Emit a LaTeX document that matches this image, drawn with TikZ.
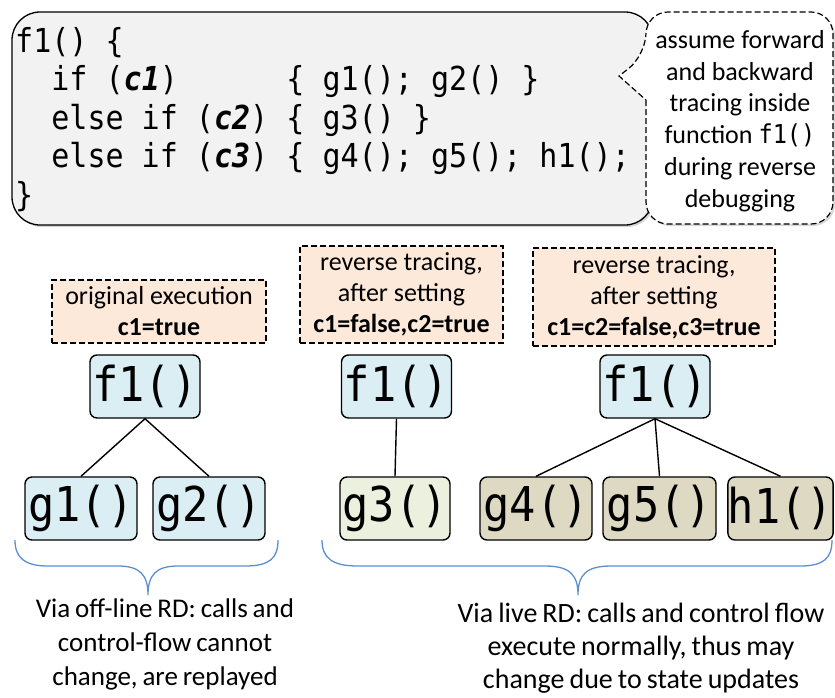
\documentclass[tikz,border=0pt]{standalone}
\usepackage{fontspec}
\setmainfont{Carlito}
\newfontfamily\codefont[FakeStretch=0.91]{DejaVu Sans Mono}
\usetikzlibrary{shadows}
\definecolor{codebg}{HTML}{F2F2F2}
\definecolor{peach}{HTML}{FDE9D9}
\definecolor{fblue}{HTML}{DAEEF3}
\definecolor{fgreen}{HTML}{EBF1DE}
\definecolor{ftan}{HTML}{DDD9C3}
\definecolor{brace}{HTML}{5B8FCF}
\newcommand\tightsp{\spaceskip=0.18em plus 0.05em\relax}
\tikzset{
  codeline/.style={anchor=base west, inner sep=0pt, font=\codefont\fontsize{33}{38}\selectfont},
  fnode/.style={draw, line width=1.4pt, rounded corners=7pt, inner sep=0pt,
     minimum height=63pt, font=\codefont\fontsize{48}{48}\selectfont},
  lbl/.style={draw, line width=1.2pt, dash pattern=on 6pt off 3pt, fill=peach, align=center,
     inner sep=0pt, font=\fontsize{26}{31}\selectfont},
  edge/.style={line width=1.4pt},
  bracepath/.style={draw=brace, line width=1.3pt},
  note/.style={align=center, inner sep=0pt, font=\fontsize{27}{34}\selectfont}
}
\begin{document}
\begin{tikzpicture}[x=1pt,y=-1pt]
\useasboundingbox (0,0) rectangle (835,697);
% code box
\path[draw, line width=1.3pt, fill=codebg, rounded corners=28pt,
  drop shadow={shadow xshift=2pt, shadow yshift=-2pt, opacity=0.35}]
  (12,12) rectangle (653,225);
\node[codeline] (l1) at (15,52) {f1() \{};
\node[codeline] (l2) at (15,90.5) {\phantom{xx}if (\textbf{\textit{c1}})\phantom{xxxxx} \{ g1(); g2() \}};
\node[codeline] (l3) at (15,129) {\phantom{xx}else if (\textbf{\textit{c2}}) \{ g3() \}};
\node[codeline] (l4) at (15,167.5) {\phantom{xx}else if (\textbf{\textit{c3}}) \{ g4(); g5(); h1();};
\node[codeline] (l5) at (15,206) {\}};
% callout
\path[draw, line width=1.2pt, dash pattern=on 6pt off 3pt, fill=white, rounded corners=22pt,
  drop shadow={shadow xshift=2pt, shadow yshift=-2pt, opacity=0.3}]
  (646,100) -- (646,224) -- (833,224) -- (833,12) -- (646,12) -- (646,55) [sharp corners] -- (619,76) -- cycle;
\node[note, font=\fontsize{26}{31.7}\selectfont] (call) at (740,121)
  {assume forward\\and backward\\tracing inside\\function {\codefont f1()}\\during reverse\\debugging};
% label boxes
\node[lbl, minimum width=214pt, minimum height=63pt] (lb1) at (159,311.5)
  {original execution\\\textbf{c1=true}};
\node[lbl, minimum width=203pt, minimum height=97pt] (lb2) at (401.5,294.5)
  {reverse tracing,\\after setting\\\textbf{c1=false,c2=true}};
\node[lbl, minimum width=242pt, minimum height=98pt] (lb3) at (654,297)
  {reverse tracing,\\after setting\\\textbf{c1=c2=false,c3=true}};
% function nodes
\node[fnode, fill=fblue, minimum width=110pt] (f1a) at (145,386.5) {f1()};
\node[fnode, fill=fblue, minimum width=110pt] (f1b) at (396.5,386.5) {f1()};
\node[fnode, fill=fblue, minimum width=110pt] (f1c) at (655,386.5) {f1()};
\node[fnode, fill=fblue, minimum width=112pt] (g1) at (81,508.5) {g1()};
\node[fnode, fill=fblue, minimum width=112pt] (g2) at (209,508.5) {g2()};
\node[fnode, fill=fgreen, minimum width=110pt] (g3) at (395,508.5) {g3()};
\node[fnode, fill=ftan, minimum width=112pt] (g4) at (536,508.5) {g4()};
\node[fnode, fill=ftan, minimum width=113pt] (g5) at (659.5,508.5) {g5()};
\node[fnode, fill=ftan, minimum width=104pt] (h1) at (780.5,508.5) {h1()};
% edges
\draw[edge] (f1a.south) -- (g1.north);
\draw[edge] (f1a.south) -- (g2.north);
\draw[edge] (f1b.south) -- (g3.north);
\draw[edge] (f1c.south) -- (g4.north);
\draw[edge] (f1c.south) -- (g5.north);
\draw[edge] (f1c.south) -- (h1.north);
% braces
\draw[bracepath] (15,540) .. controls (15,558) and (25,566) .. (48,566) -- (118,566)
  .. controls (140,566) and (148,575) .. (148,595)
  .. controls (148,575) and (156,566) .. (178,566) -- (245,566)
  .. controls (270,566) and (278,558) .. (278,540);
\draw[bracepath] (322,540) .. controls (322,558) and (332,566) .. (358,566) -- (545,566)
  .. controls (570,566) and (578,575) .. (578,595)
  .. controls (578,575) and (586,566) .. (611,566) -- (800,566)
  .. controls (824,566) and (832,558) .. (832,540);
% notes
\node[note] (n1) at (165,644) {\tightsp Via off-line RD: calls and\\\tightsp control-flow cannot\\\tightsp change, are replayed};
\node[note, font=\fontsize{28}{33}\selectfont] (n2) at (641,648.5) {\tightsp Via live RD: calls and control flow\\\tightsp execute normally, thus may\\\tightsp change due to state updates};
\end{tikzpicture}
\end{document}
